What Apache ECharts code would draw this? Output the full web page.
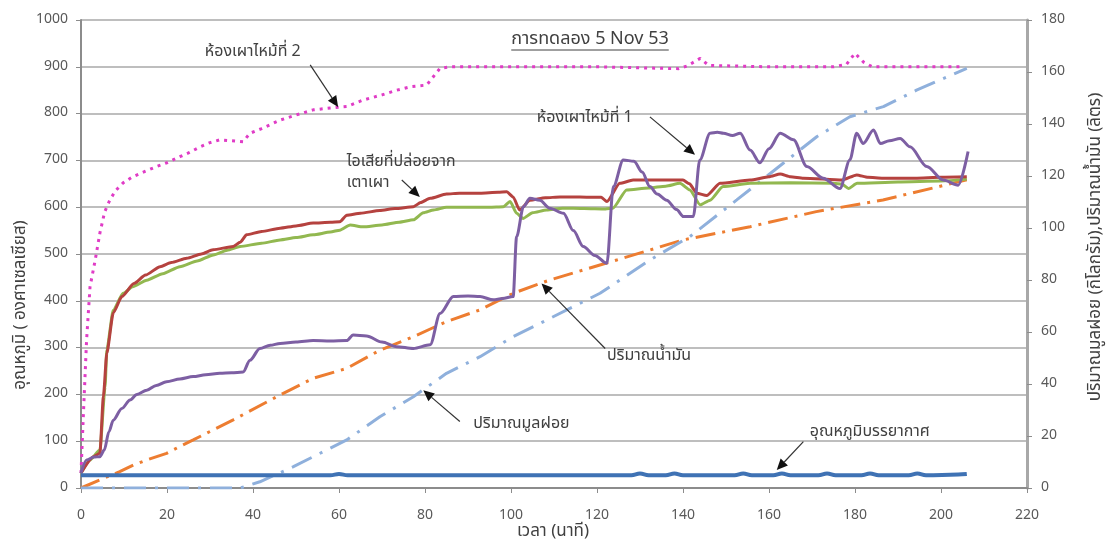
<!DOCTYPE html>
<html><head><meta charset="utf-8">
<script src="https://cdn.jsdelivr.net/npm/echarts@6/dist/echarts.min.js"></script>
<style>html,body{margin:0;padding:0;background:#fff}#c{width:1114px;height:545px}</style>
</head><body><div id="c"></div>
<script>
// ---- data (time in minutes) ----
const xTicks = [0,20,40,60,80,100,120,140,160,180,200,220];
const chamber2 = [[0,32],[0.5,145],[1.3,316],[2.1,430],[3.3,487],[4.4,545],[5.5,590],[6.7,615],[8,635],[9.8,652],[12,665],[15,677],[17.6,687],[20,695],[23,708],[25,716],[27.7,729],[30,738],[32.3,744],[35,742],[37.7,740],[39.3,758],[42,768],[46.3,786],[50,797],[54,808],[58,812],[61.8,815],[65.6,829],[70,840],[73.4,850],[77,858],[80.4,861],[83.5,897],[86,900],[100,900],[120,900],[139,896],[141,902],[144,918],[146,903],[160,900],[175,900],[178,905],[180,929],[182,910],[184,900],[205,900]];
const exhaust = [[0,32],[2.9,67],[4.4,74],[5.2,195],[6,288],[7.5,374],[9.5,409],[12.3,437],[15,455],[18.4,473],[21,482],[24.6,491],[28,500],[30.7,509],[35.4,516],[37,525],[38.5,541],[42,548],[46.3,555],[50,560],[54,566],[58,568],[60.2,569],[61.8,583],[65,587],[69.5,593],[73,597],[77.3,601],[79,610],[81.2,619],[85,628],[88,630],[92.8,630],[97,632],[99,633],[100.5,622],[102,594],[104.4,615],[108,620],[111.4,622],[116,622],[121,621],[122.3,612],[125.3,651],[128.4,658],[135,658],[140,658],[141.5,650],[143.2,630],[145.5,625],[148.6,651],[155.6,658],[160,665],[162.6,671],[165,665],[168,662],[177,658],[180.4,669],[183,664],[186.5,662],[194,662],[200,664],[206,665]];
const greenTemp = [[0,32],[2.1,60],[4.4,81],[5.6,216],[6,295],[7.5,380],[9.8,416],[12,430],[15.3,444],[19,458],[23,473],[27,485],[30.8,498],[34,508],[37,516],[42,523],[46.3,530],[50,535],[54,541],[58,547],[60.2,551],[62.6,562],[65.6,558],[70,562],[74,568],[77.3,573],[79.6,588],[82,594],[85,600],[90,600],[95,600],[98.2,601],[99.8,612],[101.3,587],[102.8,576],[105,588],[108.3,594],[112,598],[117,597],[122,596],[123.7,598],[126.9,637],[132,641],[136,645],[139.3,651],[141.6,637],[144,605],[146.3,615],[149.3,644],[155.6,651],[165,652],[175,651],[177,649],[178.5,640],[180.5,651],[190,654],[200,656],[206,660]];
const chamber1 = [[0,32],[1.3,60],[3,66],[4.4,67],[5.4,81],[6.5,120],[7.5,145],[9.5,170],[11.4,188],[13,200],[15.3,209],[17.5,219],[19.9,227],[23,233],[26.1,238],[29,242],[32.3,245],[35,246],[37.7,248],[39.3,273],[41.6,298],[44,305],[46.3,309],[50,312],[54,315],[58,314],[61.8,315],[63.3,327],[66.4,325],[70,312],[73.4,302],[77.3,298],[81.2,306],[83.5,373],[86.6,409],[90,410],[92.8,409],[95.9,402],[98,405],[100.5,409],[101.3,537],[102.9,601],[104.4,619],[106.7,615],[109,598],[112.2,587],[114.5,550],[116.8,516],[119.5,497],[122.3,480],[123.8,644],[126.1,701],[128.6,698],[130.5,675],[132.3,644],[134,628],[136.2,615],[138.5,595],[140.1,580],[142.4,580],[143.9,701],[146.3,758],[148,760],[149.4,758],[151.5,753],[153.3,758],[155.6,722],[157.9,695],[160,725],[162.6,758],[165.7,744],[168.8,687],[172.6,662],[176.5,640],[178.8,701],[180.4,758],[181.9,736],[184.3,765],[185.9,736],[188,742],[190.5,747],[192.8,729],[196.7,687],[200.5,658],[204,647],[206.3,719]];
const ambient = [[0,27],[20,27],[40,27],[58,27],[60,30],[62,27],[100,27],[120,27],[128,27],[130,31],[132,27],[136,27],[138,31],[140,27],[152,27],[154,31],[156,27],[161,27],[163,31],[165,27],[171.5,27],[173.5,31],[175.5,27],[181.5,27],[183.5,31],[185.5,27],[192.5,27],[194.5,31],[196.5,27],[204,29],[206,30]];
const oil = [[0,0],[5.2,3.7],[9,6.3],[12.2,8.8],[15.3,10.8],[19.9,13.3],[23,16],[26.1,18.5],[35.4,26.2],[46.3,35.8],[54,42.2],[61.8,46],[69.5,53],[77.3,58.2],[85,64],[92.8,68.5],[100.5,74.9],[109,80],[124.6,87.7],[140,95.4],[155.6,100.5],[171,106.3],[186.5,110.8],[206,118.5]];
const garbage = [[0,0],[37,0],[41.6,2.4],[49.4,8.2],[57.1,14.6],[61.8,18.5],[69.5,27.4],[77.3,35.1],[85,44.1],[92.8,50.5],[100.5,58.2],[108.3,64.6],[120.7,74.9],[132.3,87.7],[141.6,96.7],[152.5,110.8],[163.3,124.9],[171.1,135.1],[178.8,142.8],[186.6,146.7],[194.3,153],[206,161.4]];

// annotations in data coordinates (left temperature axis)
const annotations = [
  {lines:['ห้องเผาไหม้ที่ 2'], at:[28.8,931], from:[53.3,904], to:[59.8,814]},
  {lines:['ไอเสียที่ปล่อยจาก','เตาเผา'], at:[61.8,695], from:[74.6,658], to:[78.8,622]},
  {lines:['ห้องเผาไหม้ที่ 1'], at:[106,790], from:[132.3,793], to:[142.8,712]},
  {lines:['ปริมาณน้ำมัน'], at:[122.3,281], from:[121.9,298], to:[107.1,437]},
  {lines:['ปริมาณมูลฝอย'], at:[91.2,135], from:[88.1,142], to:[79.6,209]},
  {lines:['อุณหภูมิบรรยากาศ'], at:[169.5,117], from:[168,99], to:[161.8,38.5]}
];
const titleText = 'การทดลอง 5 Nov 53';
const leftName = 'อุณหภูมิ ( องศาเซลเซียส)';
const rightName = 'ปริมาณมูลฝอย (กิโลกรัม),ปริมาณน้ำมัน (ลิตร)';
const xName = 'เวลา (นาที)';

const FONT = "'Noto Sans Thai','Noto Sans','DejaVu Sans',sans-serif";
const chart = echarts.init(document.getElementById('c'), null, {renderer:'canvas'});
const axisGray = '#8c8c8c';
const labelStyle = {color:'#595959', fontSize:14, fontFamily:FONT};

function line(name, data, color, width, type, yIdx, z, smooth) {
  return {name, type:'line', data, yAxisIndex:yIdx, symbol:'none', z:z||2,
    smooth: smooth||false, smoothMonotone:'x',
    lineStyle:{color, width, type, cap:'butt'}, animation:false};
}

chart.setOption({
  animation:false,
  textStyle:{fontFamily:FONT},
  grid:{left:81, right:87, top:20, bottom:57, containLabel:false, outerBoundsMode:'none'},
  xAxis:{type:'value', min:0, max:220, interval:20,
    axisLine:{show:true, lineStyle:{color:axisGray, width:2}},
    axisTick:{show:true, length:5, lineStyle:{color:axisGray}},
    axisLabel:Object.assign({margin:21, formatter:v=>xTicks.includes(v)?String(v):''}, labelStyle),
    splitLine:{show:false}},
  yAxis:[
    {type:'value', min:0, max:1000, interval:100, position:'left',
     axisLine:{show:true, lineStyle:{color:axisGray, width:2}},
     axisTick:{show:true, length:5, lineStyle:{color:axisGray}},
     axisLabel:Object.assign({margin:13, formatter:v=>String(v)}, labelStyle),
     splitLine:{show:true, lineStyle:{color:'#a8a8a8', width:1.5}}},
    {type:'value', min:0, max:180, interval:20, position:'right',
     axisLine:{show:true, lineStyle:{color:'#a8a8a8', width:3}},
     axisTick:{show:true, length:5, lineStyle:{color:axisGray}},
     axisLabel:Object.assign({margin:14, formatter:v=>String(v)}, labelStyle),
     splitLine:{show:false}}
  ],
  series:[
    line('ปริมาณน้ำมัน', oil, '#ed7d31', 3, [20,7,3,7], 1, 2),
    line('ปริมาณมูลฝอย', garbage, '#8fb0dc', 3, [22,9,3,9], 1, 2),
    line('ห้องเผาไหม้ที่ 2', chamber2, '#e03cc6', 3, [3,5], 0, 3),
    line('อุณหภูมิ 3', greenTemp, '#92b850', 3, 'solid', 0, 3, 0.2),
    line('ไอเสียที่ปล่อยจากเตาเผา', exhaust, '#b5423f', 3, 'solid', 0, 3, 0.2),
    line('ห้องเผาไหม้ที่ 1', chamber1, '#7d5fa3', 3, 'solid', 0, 4, 0.3),
    line('อุณหภูมิบรรยากาศ', ambient, '#3f72b4', 4, 'solid', 0, 4, 0.4)
  ]
});

function px(p){ return chart.convertToPixel({xAxisIndex:0, yAxisIndex:0}, p); }
const graphics = [];
const annFont = '16px ' + FONT;
annotations.forEach(a => {
  const p = px(a.at);
  a.lines.forEach((t, i) => {
    const q = i === 0 ? p : px([a.at[0], a.at[1] - 44 * i]);
    graphics.push({type:'text', x:q[0], y:q[1], z:10,
      style:{text:t, fill:'#404040', font:annFont, textAlign:'left', textVerticalAlign:'middle'}});
  });
  const f = px(a.from), t = px(a.to);
  const dx = t[0]-f[0], dy = t[1]-f[1], L = Math.hypot(dx,dy), ux = dx/L, uy = dy/L;
  const hl = 11, hw = 5;
  const bx = t[0]-ux*hl, by = t[1]-uy*hl;
  graphics.push({type:'line', z:10, shape:{x1:f[0], y1:f[1], x2:bx, y2:by}, style:{stroke:'#333', lineWidth:1.2}});
  graphics.push({type:'polygon', z:10, shape:{points:[[t[0],t[1]],[bx-uy*hw, by+ux*hw],[bx+uy*hw, by-ux*hw]]}, style:{fill:'#111'}});
});
// axis names
graphics.push({type:'text', x:22, y:305, rotation:Math.PI/2, z:10,
  style:{text:leftName, fill:'#404040', font:'17px ' + FONT, textAlign:'center', textVerticalAlign:'middle'}});
graphics.push({type:'text', x:1097, y:247, rotation:Math.PI/2, z:10,
  style:{text:rightName, fill:'#404040', font:'17px ' + FONT, textAlign:'center', textVerticalAlign:'middle'}});
graphics.push({type:'text', x:553, y:533, z:10,
  style:{text:xName, fill:'#404040', font:'17px ' + FONT, textAlign:'center', textVerticalAlign:'middle'}});
// title with underline
const ctx = document.createElement('canvas').getContext('2d');
const titleFont = '18px ' + FONT;
ctx.font = titleFont;
const tw = ctx.measureText(titleText).width;
const tcx = 590, tcy = 40;
graphics.push({type:'text', x:tcx, y:tcy, z:10, style:{text:titleText, fill:'#404040', font:titleFont, textAlign:'center', textVerticalAlign:'middle'}});
graphics.push({type:'line', z:10, shape:{x1:tcx-tw/2, y1:tcy+10, x2:tcx+tw/2, y2:tcy+10}, style:{stroke:'#404040', lineWidth:1}});
chart.setOption({graphic:graphics});
</script></body></html>
